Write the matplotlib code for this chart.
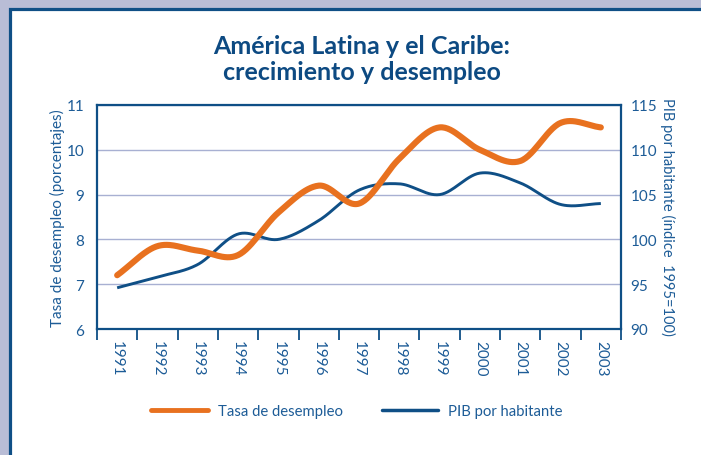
import numpy as np
import matplotlib
matplotlib.use("Agg")
import matplotlib.pyplot as plt
from matplotlib.patches import Rectangle
from matplotlib.lines import Line2D

years = ["1991", "1992", "1993", "1994", "1995", "1996", "1997",
         "1998", "1999", "2000", "2001", "2002", "2003"]
desempleo = [7.2, 7.85, 7.75, 7.65, 8.6, 9.2, 8.8, 9.8, 10.5, 10.0, 9.75, 10.6, 10.5]
pib = [94.6, 95.8, 97.2, 100.6, 100.0, 102.1, 105.5, 106.2, 105.0, 107.4, 106.3, 103.9, 104.0]

ORANGE = "#e8711f"
BLUE = "#0f4f86"
TXT = "#1d5c97"
GRID = "#a8b0d2"
BG = "#b9bdd6"
FONT = "Lato"


def smooth(x, y, n=30):
    x = np.asarray(x, float)
    y = np.asarray(y, float)
    px = np.concatenate([[2 * x[0] - x[1]], x, [2 * x[-1] - x[-2]]])
    py = np.concatenate([[2 * y[0] - y[1]], y, [2 * y[-1] - y[-2]]])
    xs, ys = [], []
    for i in range(1, len(px) - 2):
        t = np.linspace(0, 1, n, endpoint=False)
        p0, p1, p2, p3 = py[i - 1], py[i], py[i + 1], py[i + 2]
        m1 = (p2 - p0) / 2
        m2 = (p3 - p1) / 2
        h00 = 2 * t**3 - 3 * t**2 + 1
        h10 = t**3 - 2 * t**2 + t
        h01 = -2 * t**3 + 3 * t**2
        h11 = t**3 - t**2
        ys.append(h00 * p1 + h10 * m1 + h01 * p2 + h11 * m2)
        xs.append(px[i] + t * (px[i + 1] - px[i]))
    xs.append([x[-1]])
    ys.append([y[-1]])
    return np.concatenate(xs), np.concatenate(ys)


W, H = 701, 456
fig = plt.figure(figsize=(W / 100, H / 100), dpi=100)
fig.patch.set_facecolor(BG)
bgrect = Rectangle((9.5 / W, -0.1), 1.2, (H - 9.5) / H + 0.1,
                   transform=fig.transFigure, facecolor="white",
                   edgecolor=BLUE, linewidth=2.3)
bgrect.set_zorder(-10)
fig.add_artist(bgrect)

fig.text(362 / W, 1 - 46 / H, "América Latina y el Caribe:", ha="center", va="center",
         fontsize=18, fontweight="bold", color="#0d4a82", family=FONT)
fig.text(362 / W, 1 - 73 / H, "crecimiento y desempleo", ha="center", va="center",
         fontsize=18, fontweight="bold", color="#0d4a82", family=FONT)

L, R, T, B = 97, 621, 106, 330
ax2 = fig.add_axes([L / W, 1 - B / H, (R - L) / W, (B - T) / H])
ax = ax2.twinx()
ax.set_zorder(ax2.get_zorder() + 1)
ax.patch.set_visible(False)
ax2.patch.set_visible(False)

x = np.arange(len(years))
bx, by = smooth(x, pib)
ax2.plot(bx, by, color=BLUE, lw=2.1, solid_capstyle="butt", zorder=3)
ox, oy = smooth(x, desempleo)
ax.plot(ox, oy, color=ORANGE, lw=4.4, solid_capstyle="round", zorder=3)

ax2.set_ylim(90, 115)
ax2.set_yticks([90, 95, 100, 105, 110, 115])
ax2.yaxis.tick_right()
ax2.grid(axis="y", color=GRID, lw=1.0)
ax2.set_axisbelow(True)
ax.set_ylim(6, 11)
ax.set_yticks([6, 7, 8, 9, 10, 11])
ax.yaxis.tick_left()

ax2.set_xlim(-0.5, len(years) - 0.5)
ax2.set_xticks(np.arange(-0.5, len(years)), labels=[""] * (len(years) + 1))
ax2.set_xticks(x, labels=years, minor=True)
ax2.tick_params(axis="x", which="major", direction="out", length=8, width=1.3, color=BLUE)
ax2.tick_params(axis="x", which="minor", length=0, pad=8, labelrotation=270,
                labelsize=11, labelcolor=TXT)
for lab in ax2.get_xticklabels(minor=True):
    lab.set_family(FONT)
    lab.set_va("top")

ax2.tick_params(axis="y", length=0, pad=7, labelsize=11, labelcolor=TXT)
ax.tick_params(axis="y", length=0, pad=9, labelsize=11, labelcolor=TXT)
ax.tick_params(axis="x", length=0)
for lab in ax2.get_yticklabels() + ax.get_yticklabels():
    lab.set_family(FONT)

for s in ax2.spines.values():
    s.set_color(BLUE)
    s.set_linewidth(1.6)
for s in ax.spines.values():
    s.set_visible(False)

fig.text(57 / W, 1 - 218 / H, "Tasa de desempleo (porcentajes)", rotation=90,
         ha="center", va="center", fontsize=11, color=TXT, family=FONT)
fig.text(668 / W, 1 - 217 / H, "PIB por habitante (índice  1995=100)", rotation=270,
         ha="center", va="center", fontsize=10.5, color=TXT, family=FONT)

handles = [Line2D([], [], color=ORANGE, lw=3.5, solid_capstyle="round"),
           Line2D([], [], color=BLUE, lw=2.5, solid_capstyle="round")]
fig.legend(handles, ["Tasa de desempleo", "PIB por habitante"], loc="center",
           bbox_to_anchor=(357 / W, 1 - 412 / H), ncol=2, frameon=False,
           handlelength=3.8, columnspacing=2.6, handletextpad=0.7,
           prop={"family": FONT, "size": 10.7}, labelcolor=TXT)

fig.savefig("out.png", dpi=100, facecolor=BG)
